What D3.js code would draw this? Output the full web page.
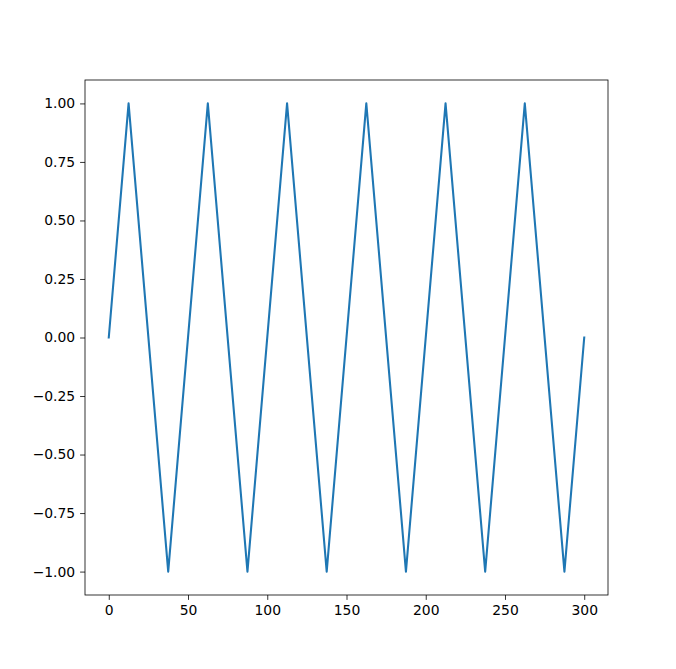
<!DOCTYPE html>
<html><head><meta charset="utf-8">
<script src="https://cdn.jsdelivr.net/npm/d3@7"></script>
<style>body{margin:0;background:#fff}svg{display:block}</style>
</head><body>
<script>
const xValues = [0, 12.5, 37.5, 62.5, 87.5, 112.5, 137.5, 162.5, 187.5, 212.5, 237.5, 262.5, 287.5, 300];
const yValues = [0, 1, -1, 1, -1, 1, -1, 1, -1, 1, -1, 1, -1, 0];
const xTicks = [0, 50, 100, 150, 200, 250, 300];
const yTicks = [-1.0, -0.75, -0.5, -0.25, 0.0, 0.25, 0.5, 0.75, 1.0];

const W = 676, H = 669;
const L = 85, R = 608, T = 80, B = 595;
const svg = d3.select("body").append("svg").attr("width", W).attr("height", H);
const x = d3.scaleLinear().domain([-15, 315]).range([L, R]);
const y = d3.scaleLinear().domain([-1.1, 1.1]).range([B, T]);
const font = "DejaVu Sans, sans-serif";

const line = d3.line().x((d,i)=>x(xValues[i])).y((d,i)=>y(yValues[i]));
svg.append("path").datum(yValues).attr("d", line).attr("fill","none")
  .attr("stroke","#1f77b4").attr("stroke-width",2.08).attr("stroke-linejoin","round").attr("stroke-linecap","square");

const xa = svg.append("g").attr("transform",`translate(0,${B})`)
  .call(d3.axisBottom(x).tickValues(xTicks).tickFormat(d3.format("d")).tickSizeOuter(0).tickSize(4.9).tickPadding(4.9));
const ya = svg.append("g").attr("transform",`translate(${L},0)`)
  .call(d3.axisLeft(y).tickValues(yTicks).tickFormat(d=>d.toFixed(2).replace("-","\u2212")).tickSizeOuter(0).tickSize(4.9).tickPadding(4.9));
[xa, ya].forEach(a=>{
  a.select(".domain").remove();
  a.selectAll("line").attr("stroke","#000").attr("stroke-width",0.8);
  a.selectAll("text").attr("font-family",font).attr("font-size","13.9px").attr("fill","#000");
});
svg.append("rect").attr("x",L).attr("y",T).attr("width",R-L).attr("height",B-T)
  .attr("fill","none").attr("stroke","#000").attr("stroke-width",0.8);
</script>
</body></html>
